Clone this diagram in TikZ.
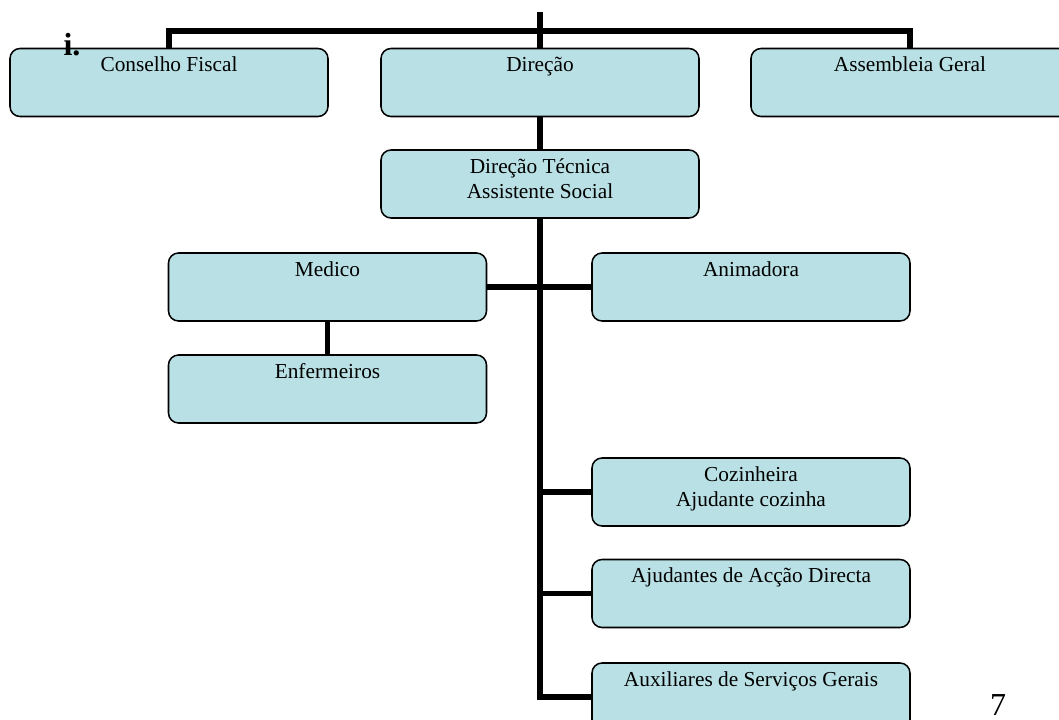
\documentclass[tikz,border=0pt]{standalone}
\usepackage{fontspec}
\setmainfont{Liberation Serif}
\usetikzlibrary{backgrounds}
\definecolor{boxfill}{RGB}{185,224,228}
\tikzset{
  orgbox/.style={draw=black, line width=1.15pt, fill=boxfill, rounded corners=7.5pt,
    minimum width=238.5pt, minimum height=51pt, inner sep=0pt, outer sep=0pt},
  boxtext/.style={anchor=base, inner sep=0pt, align=center, font=\fontsize{16}{18.75}\selectfont},
  link/.style={line width=4.4pt, line join=miter, line cap=rect}
}
\begin{document}
\begin{tikzpicture}[x=0.75pt, y=-0.75pt]
\useasboundingbox (0,0) rectangle (1059,720);
\clip (0,0) rectangle (1059,720);
% boxes
\node[orgbox] (cf)   at (169,82.5) {};
\node[orgbox] (dir)  at (540,82.5) {};
\node[orgbox] (ag)   at (910,82.5) {};
\node[orgbox] (dt)   at (540,184) {};
\node[orgbox] (med)  at (327.5,287) {};
\node[orgbox] (anim) at (751,287) {};
\node[orgbox] (enf)  at (327.5,389) {};
\node[orgbox] (cozi) at (751,492) {};
\node[orgbox] (aju)  at (751,593.5) {};
\node[orgbox] (aux)  at (751,697) {};
% texts (single line: baseline 23px below the top; two lines: last baseline 48px below)
\node[boxtext] (cft)   at ([yshift=-17.5pt]cf.north) {Conselho Fiscal};
\node[boxtext] (dirt)  at ([yshift=-17.5pt]dir.north) {Direção};
\node[boxtext] (agt)   at ([yshift=-17.5pt]ag.north) {Assembleia Geral};
\node[boxtext] (dtt)   at ([yshift=-36.25pt]dt.north) {Direção Técnica\\Assistente Social};
\node[boxtext] (medt)  at ([yshift=-17.5pt]med.north) {Medico};
\node[boxtext] (animt) at ([yshift=-17.5pt]anim.north) {Animadora};
\node[boxtext] (enft)  at ([yshift=-17.5pt]enf.north) {Enfermeiros};
\node[boxtext] (cozit) at ([yshift=-36.25pt]cozi.north) {Cozinheira\\Ajudante cozinha};
\node[boxtext] (ajut)  at ([yshift=-17.5pt]aju.north) {Ajudantes de Acção Directa};
\node[boxtext] (auxt)  at ([yshift=-17.5pt]aux.north) {Auxiliares de Serviços Gerais};
\node[anchor=base, inner sep=0pt, font=\fontsize{24}{28}\selectfont\bfseries] (num) at (72,56) {i.};
\node[anchor=base, inner sep=0pt, font=\fontsize{24}{28}\selectfont] (page) at (998,715) {7};
% connectors
\coordinate (top) at (540,15);
\coordinate (bar) at (540,31);
\begin{scope}[on background layer]
\draw[link] (top) -- (dir.north);
\draw[link] (cf.north) |- (bar) -| (ag.north);
\draw[link] (dir.south) -- (dt.north);
\draw[link] (dt.south) |- (aux.west);
\draw[link] (med.east) -- (anim.west);
\draw[link] (med.south) -- (enf.north);
\draw[link] (cozi.west) -- (cozi.west -| dt.south);
\draw[link] (aju.west) -- (aju.west -| dt.south);
\end{scope}
\end{tikzpicture}
\end{document}
